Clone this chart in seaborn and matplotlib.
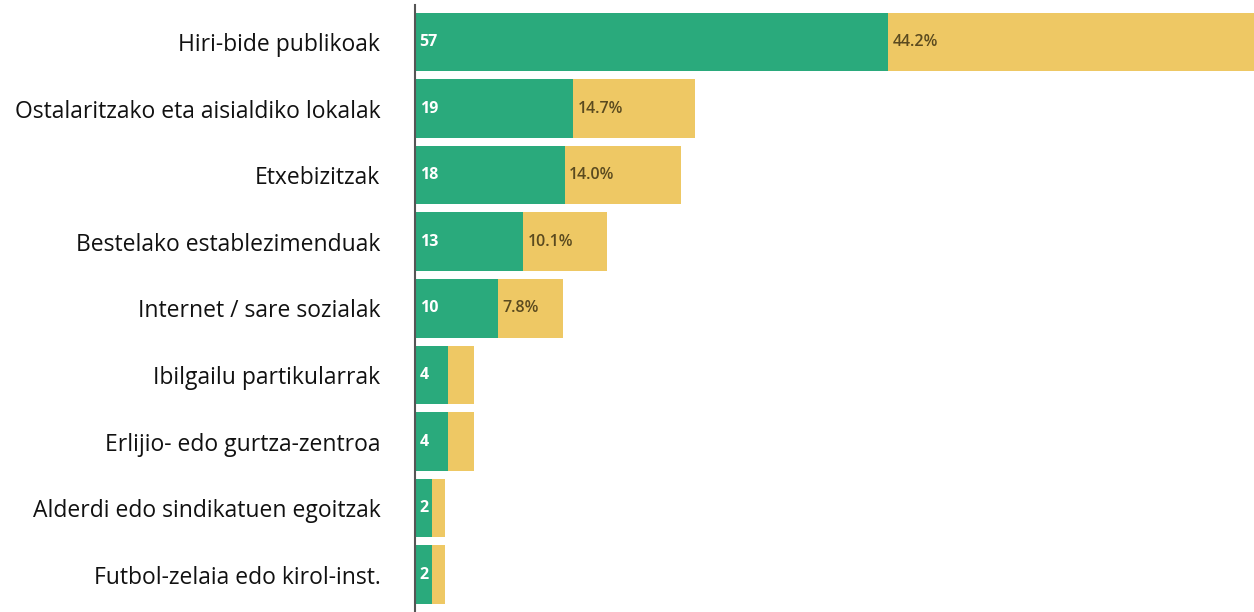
import numpy as np
import pandas as pd
import matplotlib
matplotlib.use("Agg")
import matplotlib.pyplot as plt
import seaborn as sns

categories = [
    "Hiri-bide publikoak",
    "Ostalaritzako eta aisialdiko lokalak",
    "Etxebizitzak",
    "Bestelako establezimenduak",
    "Internet / sare sozialak",
    "Ibilgailu partikularrak",
    "Erlijio- edo gurtza-zentroa",
    "Alderdi edo sindikatuen egoitzak",
    "Futbol-zelaia edo kirol-inst.",
]
counts = [57, 19, 18, 13, 10, 4, 4, 2, 2]
percents = [44.2, 14.7, 14.0, 10.1, 7.8, 3.1, 3.1, 1.6, 1.6]
pct_labels = ["44.2%", "14.7%", "14.0%", "10.1%", "7.8%", "", "", "", ""]

green = "#2aaa7c"
yellow = "#eec864"

df = pd.DataFrame({"cat": categories, "count": counts, "pct": percents})
df["total"] = df["count"] + df["pct"]

sns.set_style("white")
plt.rcParams["font.family"] = ["Open Sans", "DejaVu Sans"]

fig = plt.figure(figsize=(12.54, 6.12), dpi=100)
ax = fig.add_axes([415 / 1254, 0.0, 1 - 415 / 1254, 1 - 5 / 612])

sns.barplot(data=df, y="cat", x="total", color=yellow, saturation=1,
            width=0.88, linewidth=0, ax=ax, orient="y")
sns.barplot(data=df, y="cat", x="count", color=green, saturation=1,
            width=0.88, linewidth=0, ax=ax, orient="y")

for i, (c, p) in enumerate(zip(counts, pct_labels)):
    ax.text(0.55, i, str(c), color="white", fontsize=11.5, fontweight="bold",
            va="center", ha="left")
    if p:
        ax.text(c + 0.55, i, p, color="#5a4a1f", fontsize=11.5,
                fontweight="semibold", va="center", ha="left")

ax.set_xlim(0, 101)
ax.set_ylim(8.56, -0.555)
ax.set_xlabel("")
ax.set_ylabel("")
ax.set_xticks([])
ax.tick_params(axis="y", length=0, pad=25, labelsize=16.5, labelcolor="#111111")
for s in ["top", "right", "bottom"]:
    ax.spines[s].set_visible(False)
ax.spines["left"].set_color("#555555")
ax.spines["left"].set_linewidth(1.5)

fig.savefig("out.png", dpi=100)
